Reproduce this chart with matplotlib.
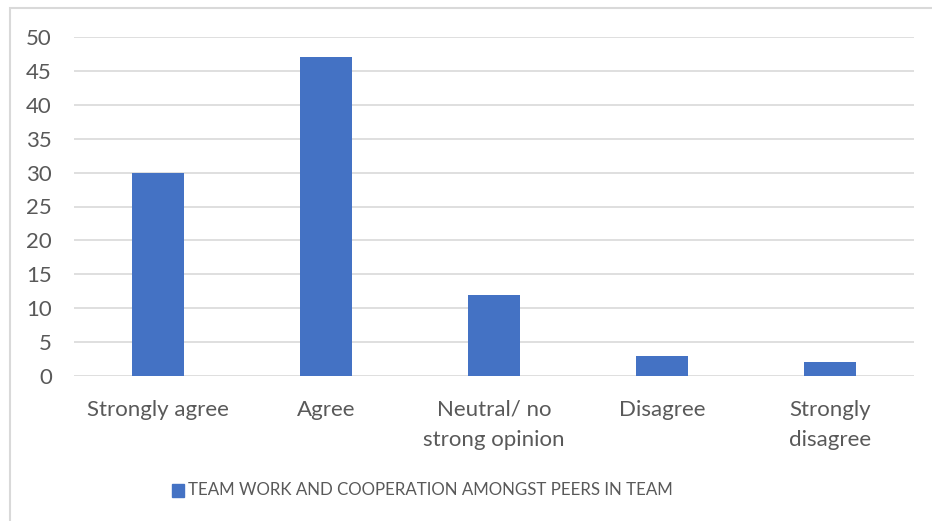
import matplotlib.pyplot as plt
from matplotlib.patches import Rectangle

categories = ["Strongly agree", "Agree", "Neutral/ no\nstrong opinion", "Disagree", "Strongly\ndisagree"]
values = [30, 47, 12, 3, 2]
series_name = "TEAM WORK AND COOPERATION AMONGST PEERS IN TEAM"
y_ticks = [0, 5, 10, 15, 20, 25, 30, 35, 40, 45, 50]

W, H = 932, 521
bar_color = "#4472C4"
text_color = "#595959"
grid_color = "#D9D9D9"
fs = 16

plt.rcParams["font.family"] = ["Lato", "DejaVu Sans"]

fig = plt.figure(figsize=(W / 100, H / 100), dpi=100)
fig.patch.set_facecolor("white")

# chart frame (runs off the right and bottom edges)
fig.patches.append(Rectangle((10 / W, -0.05), 1.1, 1 - 8 / H + 0.05,
                             transform=fig.transFigure, fill=False,
                             edgecolor="#D9D9D9", linewidth=1.5))

ax = fig.add_axes([74 / W, 1 - 376 / H, (914 - 74) / W, (376 - 37) / H])
x = range(len(categories))
ax.bar(x, values, width=0.31, color=bar_color, zorder=3)
ax.set_xlim(-0.5, len(categories) - 0.5)
ax.set_ylim(0, 50)
ax.set_yticks(y_ticks)
ax.set_yticklabels([str(t) for t in y_ticks], fontsize=fs, color=text_color)
ax.set_xticks(list(x))
ax.set_xticklabels(categories, fontsize=fs, color=text_color, linespacing=1.65, va="top")
ax.tick_params(axis="both", length=0)
ax.tick_params(axis="x", pad=17)
ax.tick_params(axis="y", pad=16)
ax.grid(axis="y", color=grid_color, linewidth=1.2, zorder=0)
for s in ax.spines.values():
    s.set_visible(False)

# legend
fig.patches.append(Rectangle((172 / W, 1 - 497 / H), 12 / W, 13 / H,
                             transform=fig.transFigure, color=bar_color))
fig.text(188 / W, 1 - 490 / H, series_name, fontsize=12.2, color=text_color,
         ha="left", va="center")

fig.savefig("out.png", dpi=100, facecolor="white")
